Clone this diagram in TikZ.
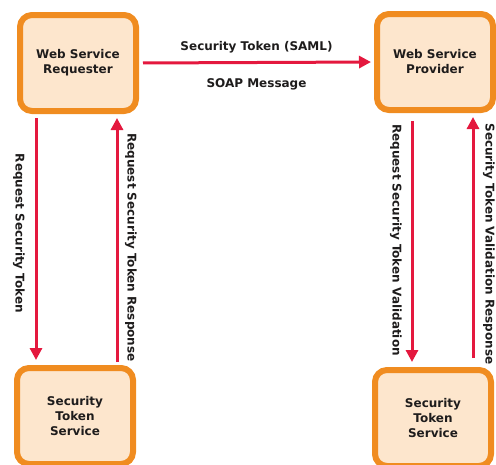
\documentclass[tikz,border=0pt]{standalone}
\usepackage{fontspec}
\setmainfont{DejaVu Sans}
\usetikzlibrary{arrows.meta}
\definecolor{boxorange}{RGB}{240,140,32}
\definecolor{boxfill}{RGB}{253,230,205}
\definecolor{msgred}{RGB}{228,24,62}
\definecolor{txtgray}{RGB}{30,28,28}

\begin{document}
\begin{tikzpicture}[x=1pt, y=-1pt,
    party/.style={draw=boxorange, fill=boxfill, line width=6pt, rounded corners=12pt,
      minimum width=116pt, minimum height=96pt, align=center, text=txtgray,
      font=\bfseries\fontsize{12}{15}\selectfont},
    msg/.style={draw=msgred, line width=3pt, -{Triangle[length=12pt,width=12pt]}},
    lbl/.style={text=txtgray, inner sep=0pt, font=\bfseries\fontsize{12}{14}\selectfont},
    vlbl/.style={lbl, rotate=-90}]
  \useasboundingbox (0,0) rectangle (496,464);
  % the four parties
  \node[party] (req)  at (78,63)   {Web Service\\Requester};
  \node[party] (prov) at (435,62)  {Web Service\\Provider};
  \node[party] (stsl) at (75,416)  {Security\\Token\\Service};
  \node[party] (stsr) at (433,418) {Security\\Token\\Service};
  % message to the provider
  \draw[msg, shorten <=4pt, shorten >=3pt] (req.east) --
        node[lbl, above=8pt] (saml) {Security Token (SAML)}
        node[lbl, below=15pt] (soap) {SOAP Message} (prov.west);
  % requester side
  \coordinate (rqdown) at ([xshift=-42pt]req.south);
  \coordinate (rqup)   at ([xshift=39pt]req.south);
  \draw[msg, shorten <=4pt, shorten >=5pt] (rqdown) --
        node[xshift=-17pt, yshift=6pt, vlbl] (rst) {Request Security Token} (rqdown |- stsl.north);
  \draw[msg, shorten <=3pt, shorten >=4pt] (rqup |- stsl.north) --
        node[xshift=14pt, yshift=-8pt, vlbl] (rstr) {Request Security Token Response} (rqup);
  % provider side
  \coordinate (pvdown) at ([xshift=-23pt]prov.south);
  \coordinate (pvup)   at ([xshift=38pt]prov.south);
  \draw[msg, shorten <=8pt, shorten >=5pt] (pvdown) --
        node[xshift=-16pt, vlbl] (rstv) {Request Security Token Validation} (pvdown |- stsr.north);
  \draw[msg, shorten <=9pt, shorten >=4pt] (pvup |- stsr.north) --
        node[xshift=16pt, yshift=-4pt, vlbl] (stvr) {Security Token Validation Response} (pvup);
\end{tikzpicture}
\end{document}
